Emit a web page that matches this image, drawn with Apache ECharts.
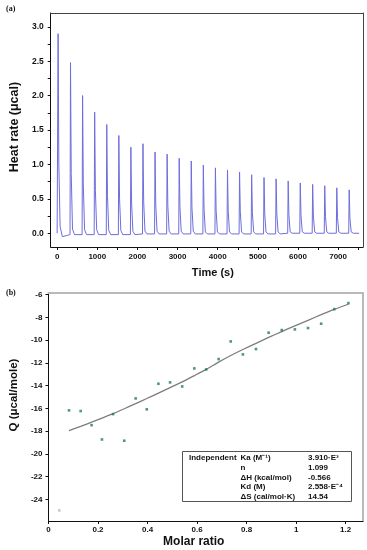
<!DOCTYPE html>
<html>
<head>
<meta charset="utf-8">
<script src="https://cdn.jsdelivr.net/npm/echarts@6/dist/echarts.min.js"></script>
<style>html,body{margin:0;padding:0;background:#fff;}#c{width:367px;height:550px;}</style>
</head>
<body>
<div id="c"></div>
<script>
// ---- Panel (a): raw thermogram trace [time (s), heat rate (µcal)] ----
const heatRateTrace = [
[0,0.00],[24,2.90],[42,1.02],[74,0.10],[130,-0.05],[260,-0.03],
[321,-0.02],[333,2.48],[351,0.87],[383,0.06],[433,-0.02],
[622,-0.02],[634,2.00],[652,0.70],[684,0.05],[734,-0.02],
[923,-0.02],[935,1.76],[953,0.62],[985,0.05],[1035,-0.02],
[1224,-0.02],[1236,1.58],[1254,0.55],[1286,0.04],[1336,-0.02],
[1525,-0.02],[1537,1.42],[1555,0.50],[1587,0.04],[1637,-0.02],
[1825,-0.02],[1837,1.25],[1855,0.44],[1887,0.03],[1937,-0.02],
[2126,-0.01],[2138,1.30],[2156,0.46],[2188,0.03],[2238,-0.01],
[2427,-0.01],[2439,1.18],[2457,0.41],[2489,0.03],[2539,-0.01],
[2728,-0.01],[2740,1.15],[2758,0.40],[2790,0.03],[2840,-0.01],
[3029,-0.01],[3041,1.09],[3059,0.38],[3091,0.03],[3141,-0.01],
[3329,-0.01],[3341,1.05],[3359,0.37],[3391,0.03],[3441,-0.01],
[3630,-0.01],[3642,0.99],[3660,0.35],[3692,0.02],[3742,-0.01],
[3931,-0.01],[3943,0.95],[3961,0.33],[3993,0.02],[4043,-0.01],
[4232,-0.01],[4244,0.92],[4262,0.32],[4294,0.02],[4344,-0.01],
[4533,-0.01],[4545,0.89],[4563,0.31],[4595,0.02],[4645,-0.01],
[4834,-0.01],[4846,0.85],[4864,0.30],[4896,0.02],[4946,-0.01],
[5142,-0.01],[5154,0.81],[5172,0.28],[5204,0.02],[5254,-0.01],
[5443,-0.01],[5455,0.79],[5473,0.28],[5505,0.02],[5555,-0.01],
[5744,0.00],[5756,0.76],[5774,0.27],[5806,0.02],[5856,0.00],
[6045,0.00],[6057,0.73],[6075,0.26],[6107,0.02],[6157,0.00],
[6354,0.00],[6366,0.71],[6384,0.25],[6416,0.02],[6466,0.00],
[6655,0.00],[6667,0.69],[6685,0.24],[6717,0.02],[6767,0.00],
[6955,0.00],[6967,0.66],[6985,0.23],[7017,0.02],[7067,0.00],
[7264,0.00],[7276,0.63],[7294,0.22],[7326,0.02],[7376,0.00],[7525,0.00]
];
const timeTicks = [0,1000,2000,3000,4000,5000,6000,7000];
const timeMinorTicks = [500,1500,2500,3500,4500,5500,6500,7500];
const heatTicks = [0,0.5,1.0,1.5,2.0,2.5,3.0];
const heatMinorTicks = [0.25,0.75,1.25,1.75,2.25,2.75];

// ---- Panel (b): integrated heats ----
const molarRatio = [0.044,0.083,0.130,0.174,0.216,0.261,0.306,0.352,0.397,0.444,0.491,0.540,0.589,0.637,0.687,0.736,0.785,0.838,0.889,0.942,0.995,1.048,1.101,1.154,1.211];
const qValues   = [-24.97,-16.17,-16.23,-17.47,-18.73,-16.50,-18.84,-15.12,-16.08,-13.83,-13.71,-14.07,-12.48,-12.57,-11.66,-10.11,-11.25,-10.78,-9.34,-9.11,-9.05,-8.93,-8.55,-7.27,-6.74];
const fitX = [0.083,0.130,0.174,0.216,0.261,0.306,0.352,0.397,0.444,0.491,0.540,0.589,0.637,0.687,0.736,0.785,0.838,0.889,0.942,0.995,1.048,1.101,1.154,1.211];
const fitQ = [-17.96,-17.58,-17.21,-16.85,-16.46,-16.03,-15.58,-15.13,-14.65,-14.17,-13.67,-13.12,-12.57,-11.93,-11.35,-10.82,-10.28,-9.76,-9.24,-8.74,-8.25,-7.76,-7.29,-6.84];
const molarTicks = [0,0.2,0.4,0.6,0.8,1.0,1.2];
const qTicks = [-24,-22,-20,-18,-16,-14,-12,-10,-8,-6];

const fitParamLabels = ['Ka (M⁻¹)','n','ΔH (kcal/mol)','Kd (M)','ΔS (cal/mol·K)'];
const fitParamValues = ['3.910·E³','1.099','-0.566','2.558·E⁻⁴','14.54'];
const fitModelName = 'Independent';

const FONT = '"Liberation Sans", Arial, sans-serif';
const tickLbl = {fontFamily: FONT, fontWeight: 'bold', fontSize: 8, color: '#111'};

const chart = echarts.init(document.getElementById('c'), null, {renderer: 'canvas'});

function frameAxis(grid, pos, min, max, color, w) {
  return {gridIndex: grid, type: 'value', position: pos, min: min, max: max,
    axisLine: {show: true, onZero: false, lineStyle: {color: color, width: w}},
    axisTick: {show: false}, axisLabel: {show: false}, splitLine: {show: false}, silent: true};
}

const tableGraphics = [{
  type: 'rect', shape: {x: 182.5, y: 451.5, width: 169, height: 50},
  style: {fill: '#fff', stroke: '#555', lineWidth: 1}, z: 100
}, {
  type: 'text', x: 189, y: 457.5, z: 101,
  style: {text: fitModelName, font: 'bold 8px ' + FONT, fill: '#111', textVerticalAlign: 'middle'}
}];
fitParamLabels.forEach(function (lab, i) {
  tableGraphics.push({type: 'text', x: 240.5, y: 457.5 + 9.9 * i, z: 101,
    style: {text: lab, font: 'bold 8px ' + FONT, fill: '#111', textVerticalAlign: 'middle'}});
  tableGraphics.push({type: 'text', x: 308, y: 457.5 + 9.9 * i, z: 101,
    style: {text: fitParamValues[i], font: 'bold 8px ' + FONT, fill: '#111', textVerticalAlign: 'middle'}});
});

const option = {
  animation: false,
  backgroundColor: '#fff',
  grid: [
    {left: 44, top: 13, right: 4, bottom: 303, containLabel: false},
    {left: 43, top: 293, right: 4, bottom: 29, containLabel: false}
  ],
  xAxis: [
    {gridIndex: 0, type: 'value', position: 'bottom', min: -160, max: 7620,
      axisLine: {show: true, onZero: false, lineStyle: {color: '#111', width: 1}},
      axisTick: {show: true, inside: false, length: 3, customValues: timeTicks.concat(timeMinorTicks), lineStyle: {color: '#111'}},
      axisLabel: {customValues: timeTicks, margin: 6, formatter: function (v) { return String(v); }, ...tickLbl},
      splitLine: {show: false},
      name: 'Time (s)', nameLocation: 'middle', nameGap: 20,
      nameTextStyle: {fontFamily: FONT, fontWeight: 'bold', fontSize: 11, color: '#111', padding: [0, 0, 0, 12]}},
    frameAxis(0, 'top', -160, 7620, '#444', 1),
    {gridIndex: 1, type: 'value', position: 'bottom', min: 0, max: 1.27,
      axisLine: {show: true, onZero: false, lineStyle: {color: '#111', width: 1}},
      axisTick: {show: true, inside: false, length: 3, customValues: molarTicks, lineStyle: {color: '#111'}},
      axisLabel: {customValues: molarTicks, margin: 5, formatter: function (v) { return String(v); }, ...tickLbl},
      splitLine: {show: false},
      name: 'Molar ratio', nameLocation: 'middle', nameGap: 15,
      nameTextStyle: {fontFamily: FONT, fontWeight: 'bold', fontSize: 12, color: '#111', padding: [0, 24, 0, 0]}},
    frameAxis(1, 'top', 0, 1.27, '#b9b9b9', 2)
  ],
  yAxis: [
    {gridIndex: 0, type: 'value', position: 'left', min: -0.2, max: 3.2,
      axisLine: {show: true, onZero: false, lineStyle: {color: '#111', width: 1}},
      axisTick: {show: true, inside: false, length: 3, customValues: heatTicks.concat(heatMinorTicks), lineStyle: {color: '#111'}},
      axisLabel: {customValues: heatTicks, margin: 7, formatter: function (v) { return v.toFixed(1); }, ...tickLbl, fontSize: 8.5},
      splitLine: {show: false},
      name: 'Heat rate (μcal)', nameLocation: 'middle', nameGap: 26,
      nameTextStyle: {fontFamily: FONT, fontWeight: 'bold', fontSize: 12.5, color: '#111', padding: [0, 0, 0, 6]}},
    frameAxis(0, 'right', -0.2, 3.2, '#444', 1),
    {gridIndex: 1, type: 'value', position: 'left', min: -25.9, max: -5.85,
      axisLine: {show: true, onZero: false, lineStyle: {color: '#111', width: 1}},
      axisTick: {show: true, inside: false, length: 3, customValues: qTicks, lineStyle: {color: '#111'}},
      axisLabel: {customValues: qTicks, margin: 6, formatter: function (v) { return String(v); }, ...tickLbl},
      splitLine: {show: false},
      name: 'Q (μcal/mole)', nameLocation: 'middle', nameGap: 25,
      nameTextStyle: {fontFamily: FONT, fontWeight: 'bold', fontSize: 11.5, color: '#111', padding: [0, 0, 0, 24]}},
    frameAxis(1, 'right', -25.9, -5.85, '#b9b9b9', 2)
  ],
  series: [
    {type: 'line', name: 'Heat rate', xAxisIndex: 0, yAxisIndex: 0, data: heatRateTrace,
      showSymbol: false, symbol: 'none', lineStyle: {color: '#6e6edc', width: 1}, z: 3},
    {type: 'line', name: 'Fit', xAxisIndex: 2, yAxisIndex: 2,
      data: fitX.map(function (x, i) { return [x, fitQ[i]]; }),
      showSymbol: false, symbol: 'none', smooth: 0.2, lineStyle: {color: '#7d7d7d', width: 1.3}, z: 3},
    {type: 'scatter', name: 'Q', xAxisIndex: 2, yAxisIndex: 2,
      data: molarRatio.map(function (x, i) {
        const d = {value: [x, qValues[i]]};
        if (i === 0) d.itemStyle = {color: '#b5bcb8'};
        return d;
      }),
      symbol: 'rect', symbolSize: 2.6, itemStyle: {color: '#237a60'}, z: 4}
  ],
  graphic: [
    {type: 'text', x: 6, y: 5, style: {text: '(a)', font: 'bold 8px "Liberation Serif", "Times New Roman", serif', fill: '#111'}},
    {type: 'text', x: 6, y: 289, style: {text: '(b)', font: 'bold 8px "Liberation Serif", "Times New Roman", serif', fill: '#111'}}
  ].concat(tableGraphics)
};
chart.setOption(option);
</script>
</body>
</html>
